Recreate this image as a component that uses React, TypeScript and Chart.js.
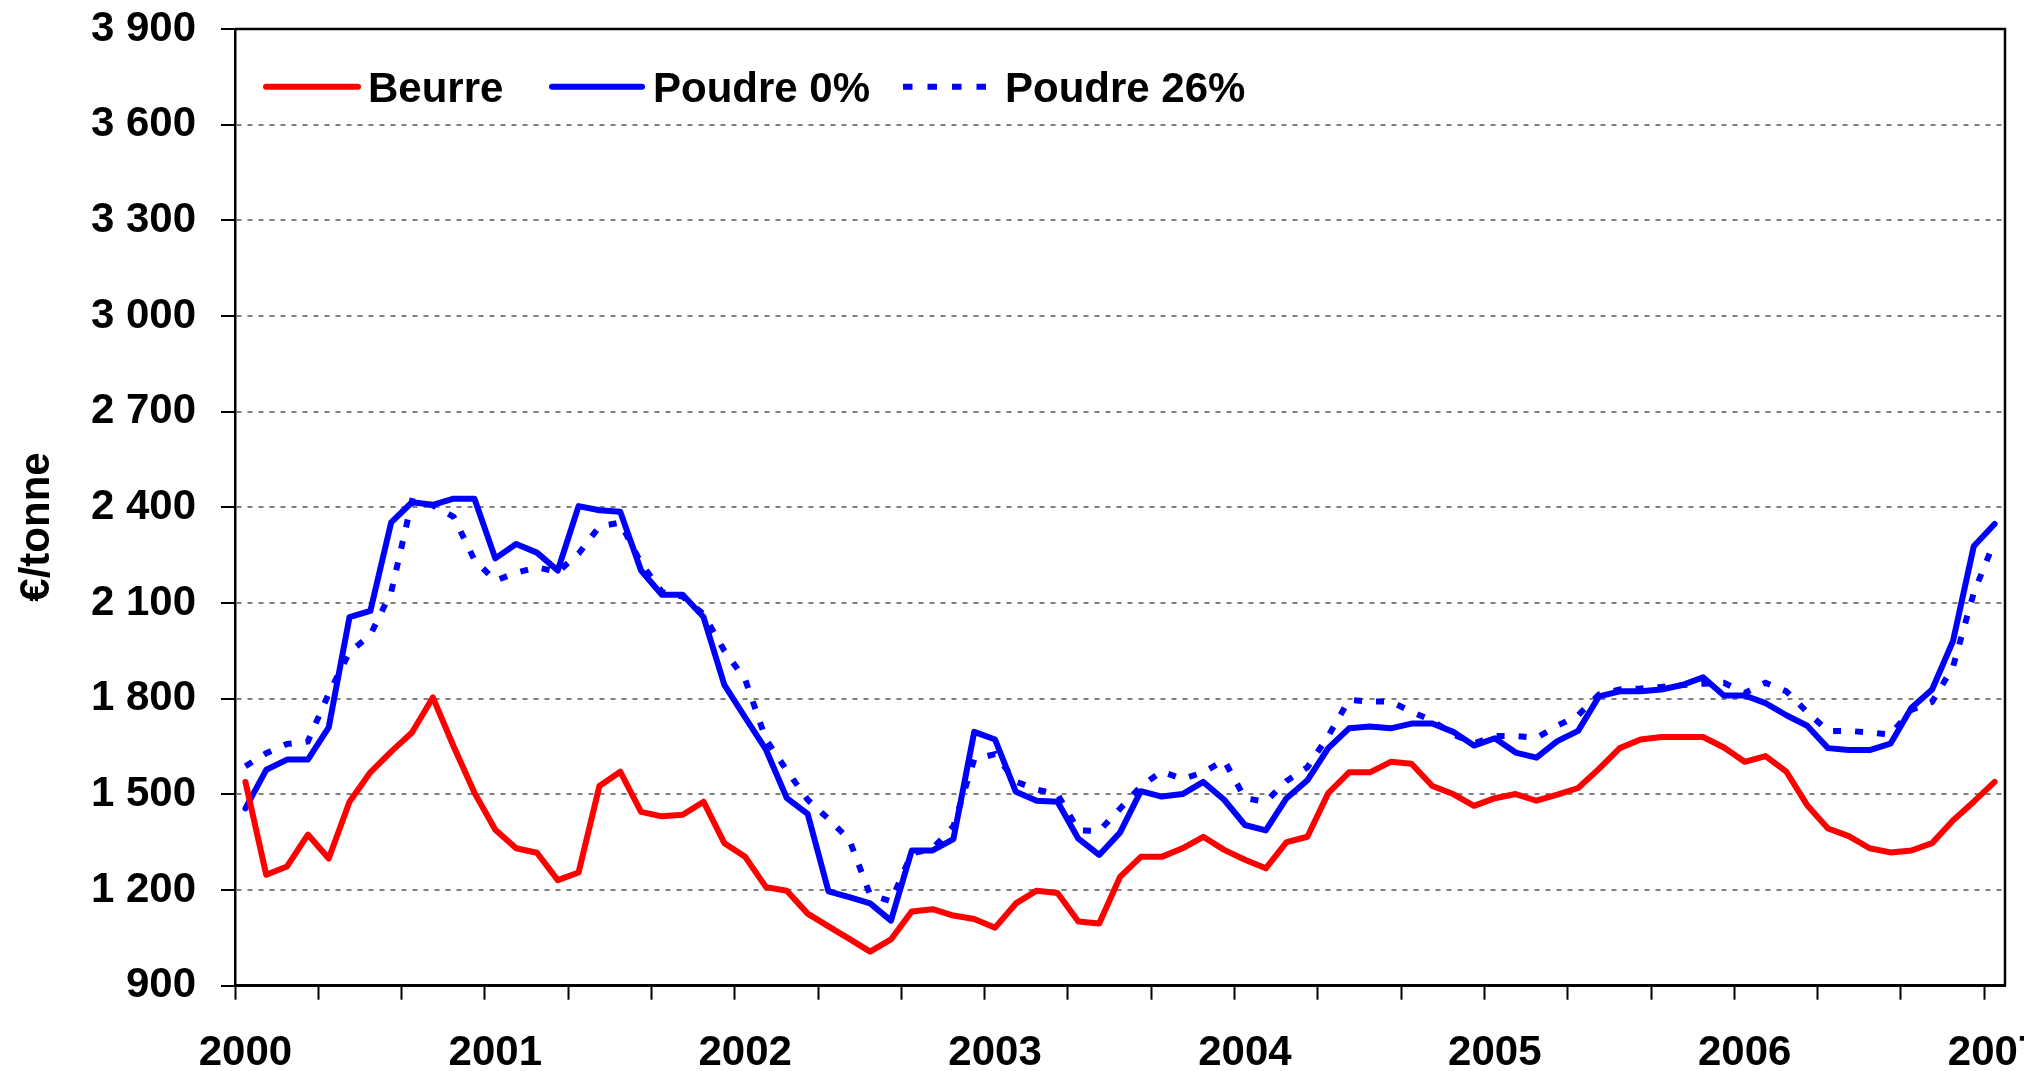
import React, { useEffect, useRef } from 'react';
import { Chart, registerables } from 'chart.js';

Chart.register(...registerables);

// ---- Data ----
const yearLabels = ['2000', '2001', '2002', '2003', '2004', '2005', '2006', '2007'];
const monthNames = ['janv', 'févr', 'mars', 'avr', 'mai', 'juin', 'juil', 'août', 'sept', 'oct', 'nov', 'déc'];
const categories: string[] = yearLabels
  .flatMap((y) => monthNames.map((m) => `${m} ${y}`))
  .slice(0, 85);

const seriesNames = ['Beurre', 'Poudre 0%', 'Poudre 26%'];
const yAxisTitle = '€/tonne';
const yMin = 900;
const yMax = 3900;
const yStep = 300;

const beurre = [
  1539, 1248, 1274, 1374, 1299, 1477, 1569, 1634, 1694, 1804,
  1650, 1505, 1389, 1331, 1317, 1231, 1255, 1526, 1571, 1445,
  1431, 1436, 1477, 1347, 1304, 1209, 1198, 1126, 1086, 1047,
  1007, 1045, 1133, 1140, 1120, 1109, 1082, 1158, 1198, 1191,
  1101, 1095, 1241, 1304, 1304, 1331, 1367, 1326, 1295, 1268,
  1350, 1367, 1504, 1569, 1569, 1602, 1596, 1526, 1501, 1464,
  1488, 1501, 1480, 1499, 1520, 1580, 1645, 1672, 1680, 1680,
  1680, 1647, 1602, 1620, 1571, 1466, 1393, 1369, 1331, 1318,
  1324, 1347, 1418, 1477, 1539,
];

const poudre0 = [
  1456, 1577, 1609, 1609, 1710, 2056, 2075, 2353, 2416, 2408,
  2427, 2427, 2240, 2285, 2258, 2202, 2404, 2391, 2386, 2202,
  2126, 2126, 2056, 1843, 1741, 1640, 1488, 1439, 1196, 1178,
  1158, 1104, 1324, 1324, 1360, 1696, 1672, 1508, 1480, 1477,
  1361, 1310, 1380, 1510, 1493, 1501, 1539, 1483, 1404, 1387,
  1488, 1544, 1645, 1707, 1713, 1707, 1722, 1722, 1696, 1653,
  1676, 1631, 1615, 1667, 1699, 1807, 1823, 1823, 1829, 1843,
  1867, 1810, 1810, 1786, 1748, 1715, 1645, 1639, 1639, 1659,
  1771, 1829, 1980, 2278, 2348,
];

const poudre26 = [
  1588, 1629, 1658, 1666, 1816, 1946, 2000, 2134, 2420, 2406,
  2370, 2235, 2170, 2195, 2212, 2197, 2255, 2340, 2352, 2225,
  2135, 2120, 2065, 1950, 1860, 1672, 1575, 1483, 1423, 1358,
  1185, 1165, 1315, 1330, 1400, 1610, 1626, 1540, 1515, 1500,
  1387, 1385, 1455, 1525, 1572, 1548, 1569, 1607, 1488, 1477,
  1542, 1585, 1683, 1796, 1791, 1791, 1759, 1731, 1688, 1660,
  1683, 1683, 1677, 1715, 1748, 1813, 1829, 1832, 1837, 1843,
  1847, 1850, 1818, 1850, 1823, 1758, 1699, 1699, 1694, 1688,
  1765, 1790, 1899, 2132, 2294,
];

const FONT = '"Liberation Sans", Arial, Helvetica, sans-serif';
const RED = '#FF0000';
const BLUE = '#0000FF';

function fmtThousands(v: number): string {
  if (v >= 1000) {
    const th = Math.floor(v / 1000);
    const rest = String(v % 1000).padStart(3, '0');
    return `${th} ${rest}`;
  }
  return String(v);
}

export default function App() {
  const ref = useRef<HTMLCanvasElement>(null);

  useEffect(() => {
    document.body.style.margin = '0';
    document.body.style.overflow = 'hidden';
    const canvas = ref.current;
    if (!canvas) return;

    const decorPlugin = {
      id: 'decor',
      afterDraw(chart: any) {
        const ctx = chart.ctx as CanvasRenderingContext2D;
        const area = chart.chartArea;
        const xScale = chart.scales.x;
        ctx.save();

        // frame (top & right)
        ctx.strokeStyle = '#000';
        ctx.lineWidth = 2.5;
        ctx.setLineDash([]);
        ctx.beginPath();
        ctx.moveTo(area.left, area.top);
        ctx.lineTo(area.right, area.top);
        ctx.lineTo(area.right, area.bottom);
        ctx.stroke();

        // year labels
        ctx.fillStyle = '#000';
        ctx.font = `bold 42px ${FONT}`;
        ctx.textAlign = 'center';
        ctx.textBaseline = 'alphabetic';
        yearLabels.forEach((y, k) => {
          const idx = k * 12;
          if (idx < categories.length) {
            const x = xScale.getPixelForValue(idx);
            ctx.fillText(y, x, 1065);
          }
        });

        // y axis title
        ctx.save();
        ctx.translate(49, 527);
        ctx.rotate(-Math.PI / 2);
        ctx.textAlign = 'center';
        ctx.fillText(yAxisTitle, 0, 0);
        ctx.restore();

        // legend
        const items = [
          { x0: 266, x1: 358, tx: 368, color: RED, dash: [] as number[], cap: 'round' },
          { x0: 552, x1: 642, tx: 653, color: BLUE, dash: [] as number[], cap: 'round' },
          { x0: 903, x1: 990, tx: 1005, color: BLUE, dash: [9.5, 15], cap: 'butt' },
        ];
        const ly = 86.7;
        items.forEach((it, i) => {
          ctx.strokeStyle = it.color;
          ctx.lineWidth = 6;
          ctx.lineCap = it.cap as CanvasLineCap;
          ctx.setLineDash(it.dash);
          ctx.beginPath();
          ctx.moveTo(it.x0, ly);
          ctx.lineTo(it.x1, ly);
          ctx.stroke();
          ctx.setLineDash([]);
          ctx.fillStyle = '#000';
          ctx.textAlign = 'left';
          ctx.fillText(chart.data.datasets[i].label, it.tx, 101.7);
        });
        ctx.restore();
      },
    };

    const chart = new Chart(canvas, {
      type: 'line',
      data: {
        labels: categories,
        datasets: [
          {
            label: seriesNames[0],
            data: beurre,
            borderColor: RED,
            backgroundColor: RED,
            borderWidth: 6,
            pointRadius: 0,
            tension: 0,
            borderJoinStyle: 'round',
            borderCapStyle: 'round',
          },
          {
            label: seriesNames[1],
            data: poudre0,
            borderColor: BLUE,
            backgroundColor: BLUE,
            borderWidth: 6,
            pointRadius: 0,
            tension: 0,
            borderJoinStyle: 'round',
            borderCapStyle: 'round',
          },
          {
            label: seriesNames[2],
            data: poudre26,
            borderColor: BLUE,
            backgroundColor: BLUE,
            borderWidth: 6,
            borderDash: [8, 14],
            pointRadius: 0,
            tension: 0,
            borderJoinStyle: 'miter',
            borderCapStyle: 'butt',
          },
        ],
      },
      options: {
        responsive: false,
        maintainAspectRatio: false,
        animation: false,
        devicePixelRatio: 1,
        layout: { padding: { top: 29, right: 19, bottom: 0, left: 0 } },
        plugins: {
          legend: { display: false },
          tooltip: { enabled: false },
          title: { display: false },
        },
        scales: {
          x: {
            type: 'category',
            offset: true,
            afterFit: (scale: any) => {
              scale.height = 85.3;
              scale.paddingLeft = 0;
              scale.paddingRight = 0;
            },
            ticks: { display: false, autoSkip: false },
            grid: {
              display: true,
              offset: true,
              drawOnChartArea: false,
              drawTicks: true,
              tickLength: 14,
              tickWidth: 2,
              tickBorderDash: [],
              tickColor: (ctx: any) =>
                typeof ctx.index === 'number' && ctx.index % 4 === 0 ? '#000' : 'rgba(0,0,0,0)',
            },
            border: { display: true, color: '#000', width: 3 },
          },
          y: {
            type: 'linear',
            min: yMin,
            max: yMax,
            afterFit: (scale: any) => {
              scale.width = 235;
              scale.paddingTop = 0;
              scale.paddingBottom = 0;
            },
            ticks: {
              stepSize: yStep,
              padding: 25,
              color: '#000',
              font: { family: FONT, size: 42, weight: 'bold' },
              callback: (v: any) => fmtThousands(Number(v)),
            },
            grid: {
              color: '#808080',
              lineWidth: 2,
              drawTicks: true,
              tickLength: 14,
              tickWidth: 2,
              tickColor: '#000',
              tickBorderDash: [],
            },
            border: { display: true, color: '#000', width: 2.5, dash: [5, 6] },
          },
        },
      },
      plugins: [decorPlugin],
    } as any);

    return () => chart.destroy();
  }, []);

  return (
    <canvas
      ref={ref}
      width={2024}
      height={1071}
      style={{ display: 'block', width: 2024, height: 1071 }}
    />
  );
}
